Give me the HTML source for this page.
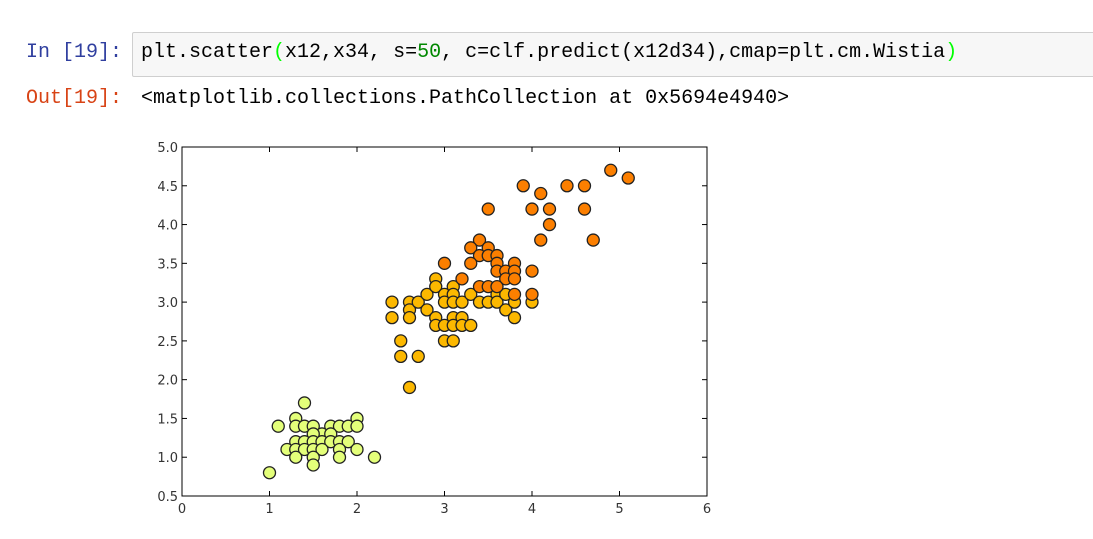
<!DOCTYPE html>
<html><head><meta charset="utf-8"><style>
body{margin:0;width:1093px;height:539px;background:#fff;overflow:hidden;font-family:"Liberation Mono",monospace;}
.p{position:absolute;font-size:20px;white-space:pre;}
</style></head><body>
<div class="p" style="left:26px;top:41px;color:#303f9f">In [19]:</div>
<div style="position:absolute;left:132px;top:32px;width:970px;height:43px;background:#f7f7f7;border:1px solid #cfcfcf;border-radius:2px"></div>
<div class="p" style="left:141px;top:41px;color:#000">plt.scatter<span style="color:#0f0">(</span>x12,x34, s=<span style="color:#080">50</span>, c=clf.predict(x12d34),cmap=plt.cm.Wistia<span style="color:#0f0">)</span></div>
<div class="p" style="left:26px;top:87px;color:#d84315">Out[19]:</div>
<div class="p" style="left:141px;top:87px;color:#000">&lt;matplotlib.collections.PathCollection at 0x5694e4940&gt;</div>
<svg id="chart" width="1093" height="539" style="position:absolute;left:0;top:0" font-family="DejaVu Sans, sans-serif"></svg>
<script>
const xTicks=[0,1,2,3,4,5,6];
const yTicks=[0.5,1.0,1.5,2.0,2.5,3.0,3.5,4.0,4.5,5.0];
const xs0=[1.0,1.1,1.4,1.3,1.3,1.4,1.5,1.7,1.8,1.9,2.0,2.0,1.6,1.5,1.7,1.3,1.4,1.5,1.6,1.7,1.8,1.9,1.2,1.3,1.4,1.5,1.6,1.8,2.0,1.3,1.5,1.8,1.5,2.2];
const ys0=[0.8,1.4,1.7,1.5,1.4,1.4,1.4,1.4,1.4,1.4,1.5,1.4,1.3,1.3,1.3,1.2,1.2,1.2,1.2,1.2,1.2,1.2,1.1,1.1,1.1,1.1,1.1,1.1,1.1,1.0,1.0,1.0,0.9,1.0];
const xs1=[2.4,2.4,2.6,2.6,2.6,2.7,2.8,2.8,2.9,2.9,2.9,2.9,3.0,3.0,3.0,3.0,3.1,3.1,3.1,3.1,3.1,3.1,3.2,3.2,3.2,3.3,3.3,3.4,3.5,3.6,3.6,3.7,3.7,3.8,3.8,4.0,2.5,2.5,2.7,2.6];
const ys1=[3.0,2.8,3.0,2.9,2.8,3.0,3.1,2.9,3.3,3.2,2.8,2.7,3.1,3.0,2.7,2.5,3.2,3.1,3.0,2.8,2.7,2.5,3.0,2.8,2.7,3.1,2.7,3.0,3.0,3.1,3.0,3.1,2.9,3.0,2.8,3.0,2.5,2.3,2.3,1.9];
const xs2=[4.9,5.1,3.9,4.4,4.6,4.1,3.5,4.0,4.2,4.6,4.2,4.1,4.7,3.4,3.3,3.5,3.4,3.5,3.6,3.3,3.6,3.8,3.6,3.7,3.8,4.0,3.7,3.8,3.2,3.4,3.5,3.6,3.8,4.0,3.0];
const ys2=[4.7,4.6,4.5,4.5,4.5,4.4,4.2,4.2,4.2,4.2,4.0,3.8,3.8,3.8,3.7,3.7,3.6,3.6,3.6,3.5,3.5,3.5,3.4,3.4,3.4,3.4,3.3,3.3,3.3,3.2,3.2,3.2,3.1,3.1,3.5];
const colors=['#e4ff7a','#fcb800','#fc7f00'];
const X0=182,X1=707,Y0=496,Y1=147;
const sx=v=>X0+(v-0)/6*(X1-X0);
const sy=v=>Y0-(v-0.5)/4.5*(Y0-Y1);
const svg=document.getElementById('chart');
const NS='http://www.w3.org/2000/svg';
function mk(t,a){const e=document.createElementNS(NS,t);for(const k in a)e.setAttribute(k,a[k]);svg.appendChild(e);return e;}
const box=mk('rect',{x:X0,y:Y1,width:X1-X0,height:Y0-Y1,fill:'#fff',stroke:'#000','stroke-width':1});


xTicks.forEach(t=>{
 const x=sx(t);
 const a=mk('line',{x1:x,x2:x,y1:Y0,y2:Y0-5,stroke:'#000'});
 
 
 const b=mk('line',{x1:x,x2:x,y1:Y1,y2:Y1+5,stroke:'#000'});
 
 
 const l=mk('text',{x:x,y:Y0+17,'text-anchor':'middle','font-size':13,fill:'#333'});
 l.textContent=String(t);
 
 
});
yTicks.forEach(t=>{
 const y=sy(t);
 const a=mk('line',{x1:X0,x2:X0+5,y1:y,y2:y,stroke:'#000'});
 
 
 const b=mk('line',{x1:X1,x2:X1-5,y1:y,y2:y,stroke:'#000'});
 
 
 const l=mk('text',{x:X0-4,y:y+5,'text-anchor':'end','font-size':13,fill:'#333'});
 l.textContent=t.toFixed(1);
 
 
});
[[xs1,ys1,1],[xs0,ys0,0],[xs2,ys2,2]].forEach(([xs,ys,c])=>{
 xs.forEach((v,i)=>{
  const p=mk('circle',{cx:sx(v),cy:sy(ys[i]),r:6,fill:colors[c],stroke:'#222','stroke-width':1.3});
  
  
 });
});
</script>
</body></html>
